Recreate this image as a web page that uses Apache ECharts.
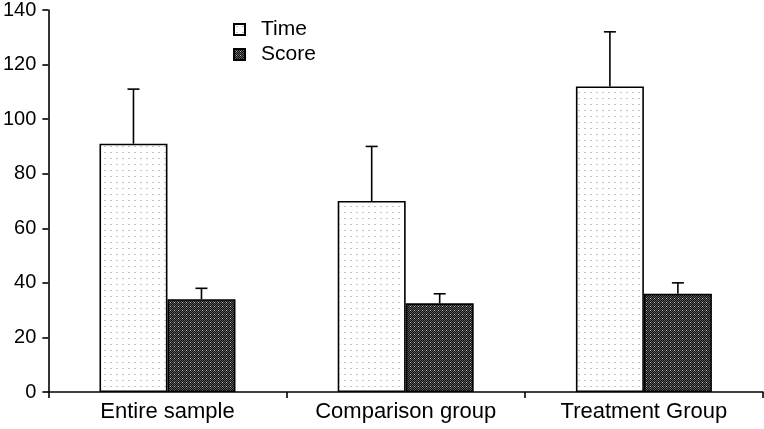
<!DOCTYPE html>
<html><head><meta charset="utf-8">
<script src="https://cdn.jsdelivr.net/npm/echarts@6/dist/echarts.min.js"></script>
<style>html,body{margin:0;padding:0;background:#fff}#c{width:764px;height:429px}</style>
</head><body><div id="c"></div>
<script>
const categories = ['Entire sample', 'Comparison group', 'Treatment Group'];
const timeValues = [91, 70, 112];
const timeErrorTop = [111, 90, 132];
const scoreValues = [34, 32.5, 36];
const scoreErrorTop = [38, 36, 40];
const yTicks = [0, 20, 40, 60, 80, 100, 120, 140];

function makePattern(type) {
  const c = document.createElement('canvas');
  if (type === 'light') {
    c.width = 6; c.height = 6;
    const g = c.getContext('2d');
    g.fillStyle = '#fff'; g.fillRect(0, 0, 6, 6);
    g.fillStyle = '#c4c4c4'; g.fillRect(2, 2, 2, 1);
  } else {
    c.width = 4; c.height = 4;
    const g = c.getContext('2d');
    g.fillStyle = '#111'; g.fillRect(0, 0, 4, 4);
    g.fillStyle = '#5a5a5a';
    g.fillRect(0, 0, 1, 1); g.fillRect(2, 0, 1, 1);
    g.fillRect(1, 1, 1, 1); g.fillRect(3, 1, 1, 1);
    g.fillRect(0, 2, 1, 1);
    g.fillRect(1, 3, 1, 1); g.fillRect(3, 3, 1, 1);
    g.fillStyle = '#bdbdbd'; g.fillRect(2, 2, 1, 1);
  }
  return { image: c, repeat: 'repeat' };
}

const BAR_W = 68;
const chart = echarts.init(document.getElementById('c'));
const font = 'Liberation Sans, Arial, sans-serif';

function errorSeries(values, tops, side) {
  return {
    type: 'custom',
    silent: true,
    z: 5,
    data: values.map((v, i) => [i, v, tops[i]]),
    renderItem: function (params, api) {
      const base = api.coord([api.value(0), api.value(1)]);
      const top = api.coord([api.value(0), api.value(2)]);
      const x = base[0] + side * BAR_W / 2;
      return {
        type: 'group',
        children: [
          { type: 'line', shape: { x1: x, y1: base[1], x2: x, y2: top[1] }, style: { stroke: '#000', lineWidth: 1.6 } },
          { type: 'line', shape: { x1: x - 6, y1: top[1], x2: x + 6, y2: top[1] }, style: { stroke: '#000', lineWidth: 1.6 } }
        ]
      };
    }
  };
}

chart.setOption({
  animation: false,
  backgroundColor: '#fff',
  grid: { left: 46, right: 1, top: 7, bottom: 37, containLabel: false },
  legend: {
    orient: 'vertical', left: 228, top: 14,
    icon: 'rect',
    itemWidth: 11, itemHeight: 11, itemGap: 4,
    textStyle: { fontFamily: font, fontSize: 21, color: '#000', padding: [0, 0, 0, 11] },
    data: ['Time', 'Score']
  },
  xAxis: {
    type: 'category', data: categories,
    axisLine: { lineStyle: { color: '#000', width: 1.6 } },
    axisTick: { show: true, alignWithLabel: false, length: 6, inside: false, lineStyle: { color: '#000', width: 1.6 } },
    axisLabel: { fontFamily: font, fontSize: 22, color: '#000', margin: 9 }
  },
  yAxis: {
    type: 'value', min: yTicks[0], max: yTicks[yTicks.length - 1], interval: 20,
    splitLine: { show: false },
    axisLine: { show: true, lineStyle: { color: '#000', width: 1.6 } },
    axisTick: { show: true, length: 6, lineStyle: { color: '#000', width: 1.6 } },
    axisLabel: { fontFamily: font, fontSize: 20, color: '#000', margin: 12 }
  },
  series: [
    { name: 'Time', type: 'bar', data: timeValues, barWidth: BAR_W, barGap: '0%',
      itemStyle: { color: makePattern('light'), borderColor: '#000', borderWidth: 1.6 } },
    { name: 'Score', type: 'bar', data: scoreValues, barWidth: BAR_W, barGap: '0%',
      itemStyle: { color: makePattern('dark'), borderColor: '#000', borderWidth: 1.6 } },
    errorSeries(timeValues, timeErrorTop, -1),
    errorSeries(scoreValues, scoreErrorTop, 1)
  ]
});
</script></body></html>
